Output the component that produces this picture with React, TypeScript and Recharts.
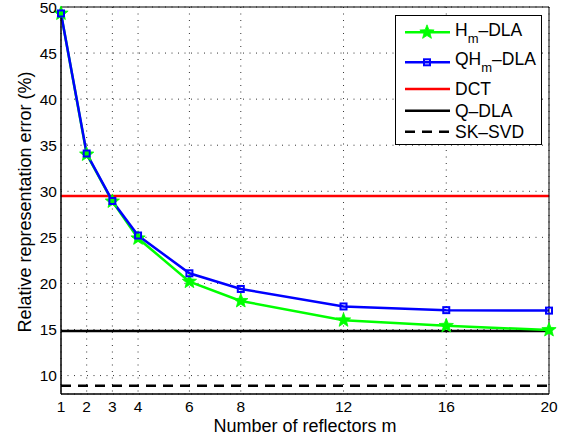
import React from 'react';
import { LineChart, Line, XAxis, YAxis, CartesianGrid, ReferenceLine, Legend } from 'recharts';

// ---- data ----
const reflectors = [1, 2, 3, 4, 6, 8, 12, 16, 20];
const hmDla = [49.3, 34.0, 28.9, 24.9, 20.2, 18.1, 16.0, 15.4, 14.95];
const qhmDla = [49.3, 34.1, 28.95, 25.2, 21.1, 19.4, 17.5, 17.1, 17.05];
const dctError = 29.5;
const qDlaError = 14.85;
const skSvdError = 8.9;
const xTicks = [1, 2, 3, 4, 6, 8, 12, 16, 20];
const yTicks = [10, 15, 20, 25, 30, 35, 40, 45, 50];
const xDomain: [number, number] = [1, 20];
const yDomain: [number, number] = [8, 50];
const xTitle = 'Number of reflectors m';
const yTitle = 'Relative representation error (%)';

const data = reflectors.map((m, i) => ({ m, hm: hmDla[i], qhm: qhmDla[i] }));

const FONT = '"Liberation Sans", Arial, Helvetica, sans-serif';
const GREEN = '#00ff00';
const BLUE = '#0000ff';
const RED = '#ff0000';

function starPoints(cx: number, cy: number, R: number, r: number) {
  const pts: string[] = [];
  for (let k = 0; k < 10; k++) {
    const rad = k % 2 === 0 ? R : r;
    const a = -Math.PI / 2 + (k * Math.PI) / 5;
    pts.push(`${cx + rad * Math.cos(a)},${cy + rad * Math.sin(a)}`);
  }
  return pts.join(' ');
}

const StarDot = (props: any) => {
  const { cx, cy, index } = props;
  if (cx == null || cy == null) return null;
  return <polygon key={`s${index}`} points={starPoints(cx, cy, 7.5, 3.2)} fill={GREEN} stroke={GREEN} strokeWidth={0.8} />;
};

const SquareDot = (props: any) => {
  const { cx, cy, index } = props;
  if (cx == null || cy == null) return null;
  return <rect key={`q${index}`} x={cx - 3} y={cy - 3} width={6} height={6} fill="none" stroke={BLUE} strokeWidth={2} />;
};

const LegendBox = () => (
  <div style={{ width: 147, height: 130, boxSizing: 'border-box', border: '1px solid #000', background: '#fff', fontFamily: FONT }}>
    <svg width={145} height={128} style={{ display: 'block' }} fontFamily={FONT} fontSize={17.5}>
      <line x1={9} x2={54} y1={16.3} y2={16.3} stroke={GREEN} strokeWidth={2.5} />
      <polygon points={starPoints(31, 16.3, 7.5, 3.2)} fill={GREEN} stroke={GREEN} strokeWidth={0.8} />
      <text x={59} y={20} fill="#000">
        <tspan>H</tspan>
        <tspan dy={6.7} fontSize={13}>m</tspan>
        <tspan dy={-6.7}>–DLA</tspan>
      </text>
      <line x1={9} x2={54} y1={46.3} y2={46.3} stroke={BLUE} strokeWidth={2.5} />
      <rect x={31 - 3} y={46.3 - 3} width={6} height={6} fill="none" stroke={BLUE} strokeWidth={2} />
      <text x={59} y={49} fill="#000">
        <tspan>QH</tspan>
        <tspan dy={6.7} fontSize={13}>m</tspan>
        <tspan dy={-6.7}>–DLA</tspan>
      </text>
      <line x1={9} x2={54} y1={73} y2={73} stroke={RED} strokeWidth={2.5} />
      <text x={59} y={79} fill="#000">DCT</text>
      <line x1={9} x2={54} y1={94.7} y2={94.7} stroke="#000" strokeWidth={2.5} />
      <text x={59} y={100.7} fill="#000">Q–DLA</text>
      <line x1={9} x2={54} y1={115.7} y2={115.7} stroke="#000" strokeWidth={2.5} strokeDasharray="10 7" />
      <text x={59} y={122.3} fill="#000">SK–SVD</text>
    </svg>
  </div>
);

const XTitle = (props: any) => {
  const vb = props.viewBox || {};
  return (
    <text x={vb.x + vb.width / 2} y={431.7} textAnchor="middle" fontSize={18} fill="#000" fontFamily={FONT}>
      {xTitle}
    </text>
  );
};

const YTitle = (props: any) => {
  const vb = props.viewBox || {};
  const cy = vb.y + vb.height / 2 + 1.5;
  const cx = 30.5;
  return (
    <text x={cx} y={cy} transform={`rotate(-90, ${cx}, ${cy})`} textAnchor="middle" fontSize={18} fill="#000" fontFamily={FONT}>
      {yTitle}
    </text>
  );
};

const tickStyle = { fill: '#000', fontSize: 15.5, fontFamily: FONT };

export default function App() {
  return (
    <div style={{ position: 'absolute', left: 0, top: 0, width: 569, height: 437, background: '#fff', fontFamily: FONT }}>
      <LineChart width={569} height={437} data={data} margin={{ top: 7, right: 20, bottom: 0, left: 0 }}>
        <CartesianGrid stroke="#333" strokeDasharray="1 5.5" strokeWidth={1} />
        <XAxis
          dataKey="m"
          type="number"
          domain={xDomain}
          ticks={xTicks}
          interval={0}
          height={43}
          tickLine={false}
          tickSize={0}
          tickMargin={7}
          axisLine={{ stroke: '#000', strokeWidth: 1.5 }}
          tick={tickStyle}
          label={<XTitle />}
        />
        <XAxis xAxisId="bm" type="number" domain={xDomain} ticks={xTicks} interval={0} orientation="bottom" mirror
          tick={false} tickSize={5} tickLine={{ stroke: '#000' }} axisLine={false} height={1} />
        <XAxis xAxisId="tm" type="number" domain={xDomain} ticks={xTicks} interval={0} orientation="top" mirror
          tick={false} tickSize={5} tickLine={{ stroke: '#000' }} axisLine={{ stroke: '#000', strokeWidth: 1 }} height={1} />
        <YAxis
          type="number"
          domain={yDomain}
          ticks={yTicks}
          interval={0}
          width={61}
          tickLine={false}
          tickSize={0}
          tickMargin={4}
          axisLine={{ stroke: '#000', strokeWidth: 1.5 }}
          tick={tickStyle}
          label={<YTitle />}
        />
        <YAxis yAxisId="lm" type="number" domain={yDomain} ticks={yTicks} interval={0} orientation="left" mirror
          tick={false} tickSize={5} tickLine={{ stroke: '#000' }} axisLine={false} width={1} />
        <YAxis yAxisId="rm" type="number" domain={yDomain} ticks={yTicks} interval={0} orientation="right" mirror
          tick={false} tickSize={5} tickLine={{ stroke: '#000' }} axisLine={{ stroke: '#000', strokeWidth: 1 }} width={1} />
        <ReferenceLine y={dctError} stroke={RED} strokeWidth={2.5} />
        <ReferenceLine y={qDlaError} stroke="#000" strokeWidth={2.5} />
        <ReferenceLine y={skSvdError} stroke="#000" strokeWidth={2.5} strokeDasharray="10 7" />
        <Line type="linear" dataKey="hm" stroke={GREEN} strokeWidth={2.5} dot={StarDot} activeDot={false} isAnimationActive={false} />
        <Line type="linear" dataKey="qhm" stroke={BLUE} strokeWidth={2.5} dot={SquareDot} activeDot={false} isAnimationActive={false} />
        <Legend
          layout="vertical"
          align="center"
          verticalAlign="middle"
          content={() => <LegendBox />}
          wrapperStyle={{ position: 'absolute', left: 395, top: 15, width: 147, height: 130, margin: 0, padding: 0 }}
        />
      </LineChart>
    </div>
  );
}
